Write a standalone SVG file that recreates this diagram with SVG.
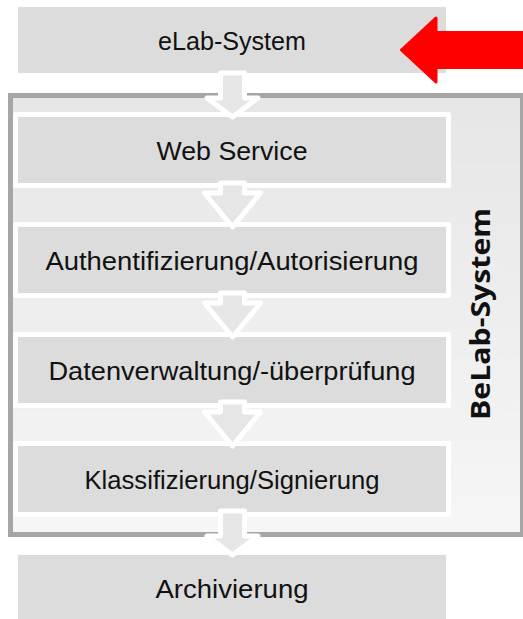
<svg xmlns="http://www.w3.org/2000/svg" xmlns:xlink="http://www.w3.org/1999/xlink" width="523" height="619" viewBox="0 0 523 619">
  <style>
    .box { fill: #dcdcdc; }
    .inner { fill: #dcdcdc; stroke: #ffffff; stroke-width: 5; stroke-linejoin: round; }
    .lbl { font-family: "Liberation Sans", Arial, sans-serif; font-size: 26px; fill: #111111; text-anchor: middle; }
    .side { font-family: "Open Sans", "DejaVu Sans", sans-serif; font-weight: bold; font-size: 26px; fill: #111111; text-anchor: middle; }
    .flow { fill: #e6e6e6; stroke: #ffffff; stroke-width: 5; stroke-linejoin: round; }
  </style>
  <defs>
    <linearGradient id="frameFill" x1="0" y1="0" x2="0" y2="1">
      <stop offset="0" stop-color="#e6e6e6"/>
      <stop offset="1" stop-color="#f6f6f6"/>
    </linearGradient>
    <!-- down block arrow with a long stem (crosses the container border) -->
    <path id="downLong" d="M220.5 0 H244.5 V25 H258 L232.5 44 L207 25 H220.5 Z"/>
    <!-- down block arrow with a short stem (between boxes inside the container) -->
    <path id="downShort" d="M220.5 0 H244.5 V10 H260.5 L232.5 44 L204.5 10 H220.5 Z"/>
  </defs>

  <!-- BeLab-System container -->
  <g id="belab">
    <rect x="10.5" y="95.5" width="512" height="439" fill="url(#frameFill)" stroke="#a6a6a6" stroke-width="5"/>
    <text class="side" transform="translate(490,314) rotate(-90)" textLength="212" lengthAdjust="spacingAndGlyphs">BeLab-System</text>
  </g>

  <g id="elab">
    <rect class="box" x="18" y="7" width="428" height="66"/>
    <text class="lbl" x="232" y="49.5" textLength="148" lengthAdjust="spacingAndGlyphs">eLab-System</text>
  </g>

  <g id="webservice">
    <rect class="inner" x="15.5" y="114.5" width="433" height="71"/>
    <text class="lbl" x="232" y="159.5" textLength="151" lengthAdjust="spacingAndGlyphs">Web Service</text>
  </g>

  <g id="auth">
    <rect class="inner" x="15.5" y="224.5" width="433" height="71"/>
    <text class="lbl" x="232" y="269.5" textLength="373" lengthAdjust="spacingAndGlyphs">Authentifizierung/Autorisierung</text>
  </g>

  <g id="daten">
    <rect class="inner" x="15.5" y="334.5" width="433" height="71"/>
    <text class="lbl" x="232" y="379.5" textLength="367" lengthAdjust="spacingAndGlyphs">Datenverwaltung/-überprüfung</text>
  </g>

  <g id="klass">
    <rect class="inner" x="15.5" y="443.5" width="433" height="71"/>
    <text class="lbl" x="232" y="488.5" textLength="295" lengthAdjust="spacingAndGlyphs">Klassifizierung/Signierung</text>
  </g>

  <g id="archiv">
    <rect class="box" x="18" y="555" width="428" height="66"/>
    <text class="lbl" x="232" y="597.5" textLength="153" lengthAdjust="spacingAndGlyphs">Archivierung</text>
  </g>

  <!-- flow connectors -->
  <g id="connectors">
    <use xlink:href="#downLong" class="flow" transform="translate(0,73)"/>
    <use xlink:href="#downShort" class="flow" transform="translate(0,183)"/>
    <use xlink:href="#downShort" class="flow" transform="translate(0,293)"/>
    <use xlink:href="#downShort" class="flow" transform="translate(0,402)"/>
    <use xlink:href="#downLong" class="flow" transform="translate(0,511)"/>
  </g>

  <!-- highlight pointer -->
  <g id="pointer">
    <path d="M530 32.5 H436 V18 L401.5 50 L436 82 V67.5 H530 Z" fill="#ff0000" stroke="#ff0000" stroke-width="3" stroke-linejoin="round"/>
  </g>
</svg>
